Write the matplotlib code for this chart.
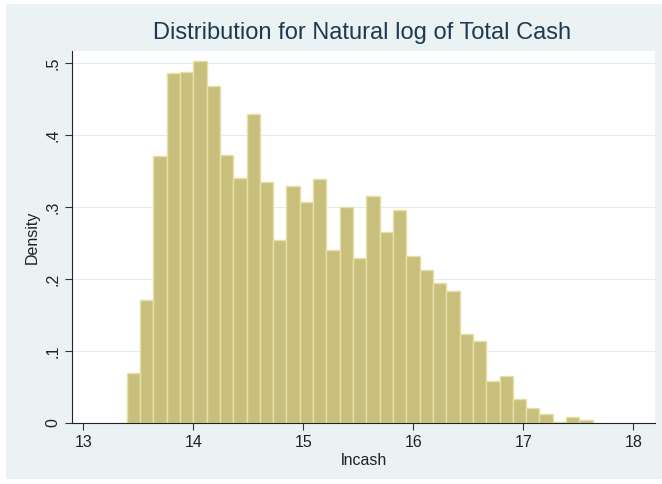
import matplotlib.pyplot as plt
import matplotlib.patches as mpatches
import numpy as np

plt.rcParams['font.family'] = ['Liberation Sans', 'DejaVu Sans']

# histogram of lncash: left edge of first bin, bin width, densities
bin_start = 13.394
bin_width = 0.12106
density = [0.070, 0.171, 0.371, 0.486, 0.488, 0.503, 0.469, 0.372, 0.341, 0.430,
           0.335, 0.255, 0.329, 0.307, 0.339, 0.240, 0.300, 0.230, 0.316, 0.266,
           0.296, 0.232, 0.212, 0.194, 0.183, 0.124, 0.114, 0.058, 0.066, 0.034,
           0.021, 0.013, 0.002, 0.009, 0.0045]
xticks = [13, 14, 15, 16, 17, 18]
yticks = [0, 0.1, 0.2, 0.3, 0.4, 0.5]
ytick_labels = ['0', '.1', '.2', '.3', '.4', '.5']

bg = '#EAF2F3'
fig = plt.figure(figsize=(6.62, 4.84), dpi=100, facecolor='white')
# light graph-region backdrop with a thin white margin
fig.patches.append(mpatches.Rectangle((6/662, 5/484), 1, 1 - 9/484,
                                      transform=fig.transFigure, facecolor=bg,
                                      edgecolor='none', zorder=-10))
ax = fig.add_axes([72/662, 1 - 423/484, (655 - 72)/662, (423 - 51)/484])
ax.set_facecolor('white')

edges = bin_start + bin_width * np.arange(len(density))
ax.bar(edges, density, width=bin_width, align='edge',
       color='#C9BF7C', edgecolor='#E6DFA6', linewidth=1.0, zorder=2)

ax.set_xlim(12.897, 18.197)
ax.set_ylim(0, 0.517)
ax.set_xticks(xticks)
ax.set_yticks(yticks)
ax.set_yticklabels(ytick_labels, rotation=90, va='center')
ax.tick_params(axis='both', labelsize=11.5, color='#333333', length=5, width=0.8,
               labelcolor='#222222')
ax.yaxis.grid(True, color='#E4ECEE', linewidth=0.8, zorder=1)
ax.set_axisbelow(True)

for s in ['top', 'right']:
    ax.spines[s].set_visible(False)
for s in ['left', 'bottom']:
    ax.spines[s].set_color('#222222')
    ax.spines[s].set_linewidth(0.8)
    ax.spines[s].set_zorder(3)

ax.set_xlabel('lncash', fontsize=11.5, color='#222222', labelpad=2)
ax.set_ylabel('Density', fontsize=11.5, color='#222222', labelpad=4)
fig.text(362/662, 1 - 33/484, 'Distribution for Natural log of Total Cash',
         ha='center', va='center', fontsize=17, color='#1F3A50')

fig.savefig('out.png', dpi=100, facecolor=fig.get_facecolor())
